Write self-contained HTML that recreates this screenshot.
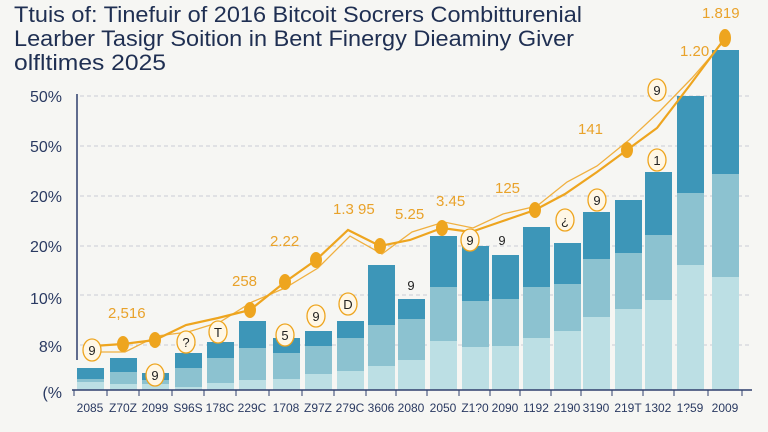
<!DOCTYPE html>
<html><head><meta charset="utf-8"><style>
body{margin:0;background:#f6f6f3;}
svg{display:block;font-family:"Liberation Sans",sans-serif;}
</style></head><body>
<svg width="768" height="432" viewBox="0 0 768 432">
<rect width="768" height="432" fill="#f6f6f3"/>
<g fill="#1f2f52" font-size="22">
<text x="14" y="22" textLength="568" lengthAdjust="spacingAndGlyphs">Ttuis of: Tinefuir of 2016 Bitcoit Socrers Combitturenial</text>
<text x="14" y="46" textLength="560" lengthAdjust="spacingAndGlyphs">Learber Tasigr Soition in Bent Finergy Dieaminy Giver</text>
<text x="14" y="70" textLength="152" lengthAdjust="spacingAndGlyphs">olfltimes 2025</text>
</g>
<g stroke="#c9ccd4" stroke-dasharray="4,3" stroke-width="1">
<line x1="80" y1="96" x2="752" y2="96"/><line x1="80" y1="146" x2="752" y2="146"/>
<line x1="80" y1="196" x2="752" y2="196"/><line x1="80" y1="246" x2="752" y2="246"/>
<line x1="80" y1="295" x2="752" y2="295"/><line x1="80" y1="345" x2="752" y2="345"/>
</g>
<line x1="77" y1="94" x2="77" y2="360" stroke="#2e3f6c" stroke-width="1.5"/>
<g fill="#2a3a62" font-size="16" text-anchor="end">
<text x="62" y="102">50%</text><text x="62" y="152">50%</text><text x="62" y="202">20%</text>
<text x="62" y="252">20%</text><text x="62" y="304">10%</text><text x="62" y="352">8%</text><text x="62" y="398">(%</text>
</g>
<g fill="#3d96b8">
<rect x="77" y="368" width="27" height="22"/><rect x="110" y="358" width="27" height="32"/><rect x="142" y="373" width="27" height="17"/>
<rect x="175" y="353" width="27" height="37"/><rect x="207" y="342" width="27" height="48"/><rect x="239" y="321" width="27" height="69"/>
<rect x="273" y="338" width="27" height="52"/><rect x="305" y="331" width="27" height="59"/><rect x="337" y="321" width="27" height="69"/>
<rect x="368" y="265" width="27" height="125"/><rect x="398" y="299" width="27" height="91"/><rect x="430" y="236" width="27" height="154"/>
<rect x="462" y="246" width="27" height="144"/><rect x="492" y="255" width="27" height="135"/><rect x="523" y="227" width="27" height="163"/>
<rect x="554" y="243" width="27" height="147"/><rect x="583" y="212" width="27" height="178"/><rect x="615" y="200" width="27" height="190"/>
<rect x="645" y="172" width="27" height="218"/><rect x="677" y="96" width="27" height="294"/><rect x="712" y="50" width="27" height="340"/>
</g>
<g fill="#8cc2d0">
<rect x="77" y="379" width="27" height="11"/><rect x="110" y="372" width="27" height="18"/><rect x="142" y="380" width="27" height="10"/>
<rect x="175" y="368" width="27" height="22"/><rect x="207" y="358" width="27" height="32"/><rect x="239" y="348" width="27" height="42"/>
<rect x="273" y="353" width="27" height="37"/><rect x="305" y="346" width="27" height="44"/><rect x="337" y="338" width="27" height="52"/>
<rect x="368" y="325" width="27" height="65"/><rect x="398" y="319" width="27" height="71"/><rect x="430" y="287" width="27" height="103"/>
<rect x="462" y="301" width="27" height="89"/><rect x="492" y="299" width="27" height="91"/><rect x="523" y="287" width="27" height="103"/>
<rect x="554" y="284" width="27" height="106"/><rect x="583" y="259" width="27" height="131"/><rect x="615" y="253" width="27" height="137"/>
<rect x="645" y="235" width="27" height="155"/><rect x="677" y="193" width="27" height="197"/><rect x="712" y="174" width="27" height="216"/>
</g>
<g fill="#bcdfe4">
<rect x="77" y="382" width="27" height="8"/><rect x="110" y="384" width="27" height="6"/><rect x="142" y="384" width="27" height="6"/>
<rect x="175" y="387" width="27" height="3"/><rect x="207" y="383" width="27" height="7"/><rect x="239" y="380" width="27" height="10"/>
<rect x="273" y="379" width="27" height="11"/><rect x="305" y="374" width="27" height="16"/><rect x="337" y="371" width="27" height="19"/>
<rect x="368" y="366" width="27" height="24"/><rect x="398" y="360" width="27" height="30"/><rect x="430" y="341" width="27" height="49"/>
<rect x="462" y="347" width="27" height="43"/><rect x="492" y="346" width="27" height="44"/><rect x="523" y="338" width="27" height="52"/>
<rect x="554" y="331" width="27" height="59"/><rect x="583" y="317" width="27" height="73"/><rect x="615" y="309" width="27" height="81"/>
<rect x="645" y="300" width="27" height="90"/><rect x="677" y="265" width="27" height="125"/><rect x="712" y="277" width="27" height="113"/>
</g>
<line x1="72" y1="390" x2="752" y2="390" stroke="#2e3f6c" stroke-width="1.5"/>
<g stroke="#2e3f6c" stroke-width="1">
<line x1="74" y1="390" x2="74" y2="396"/><line x1="107" y1="390" x2="107" y2="396"/><line x1="139" y1="390" x2="139" y2="396"/><line x1="172" y1="390" x2="172" y2="396"/><line x1="204" y1="390" x2="204" y2="396"/><line x1="236" y1="390" x2="236" y2="396"/><line x1="269" y1="390" x2="269" y2="396"/><line x1="302" y1="390" x2="302" y2="396"/><line x1="334" y1="390" x2="334" y2="396"/><line x1="366" y1="390" x2="366" y2="396"/><line x1="396" y1="390" x2="396" y2="396"/><line x1="427" y1="390" x2="427" y2="396"/><line x1="459" y1="390" x2="459" y2="396"/><line x1="490" y1="390" x2="490" y2="396"/><line x1="520" y1="390" x2="520" y2="396"/><line x1="551" y1="390" x2="551" y2="396"/><line x1="581" y1="390" x2="581" y2="396"/><line x1="612" y1="390" x2="612" y2="396"/><line x1="643" y1="390" x2="643" y2="396"/><line x1="674" y1="390" x2="674" y2="396"/><line x1="708" y1="390" x2="708" y2="396"/><line x1="742" y1="390" x2="742" y2="396"/>
</g>
<g fill="#2a3a62" font-size="12" text-anchor="middle">
<text x="90" y="412">2085</text><text x="123" y="412">Z70Z</text><text x="155" y="412">2099</text><text x="188" y="412">S96S</text><text x="220" y="412">178C</text><text x="252" y="412">229C</text><text x="286" y="412">1708</text><text x="318" y="412">Z97Z</text><text x="350" y="412">279C</text><text x="381" y="412">3606</text><text x="411" y="412">2080</text><text x="443" y="412">2050</text><text x="475" y="412">Z1?0</text><text x="505" y="412">2090</text><text x="536" y="412">1192</text><text x="567" y="412">2190</text><text x="596" y="412">3190</text><text x="628" y="412">219T</text><text x="658" y="412">1302</text><text x="690" y="412">1?59</text><text x="725" y="412">2009</text>
</g>
<polyline fill="none" stroke="#f0b040" stroke-width="1.3" points="95,352 125,352 157,336 188,332 220,322 252,302 285,288 318,268 350,236 382,254 412,232 444,222 473,228 503,214 537,206 567,182 597,166 629,140 659,112 692,78 725,40"/>
<polyline fill="none" stroke="#eea51f" stroke-width="2.2" points="93,346 123,344 155,340 186,325 218,318 250,310 285,282 316,260 348,230 380,246 410,240 442,228 471,232 500,222 535,210 565,194 597,172 627,150 657,128 690,85 725,38"/>
<g fill="#fff7e6" stroke="#eea51f" stroke-width="1.3">
<ellipse cx="92" cy="350" rx="9" ry="11"/><ellipse cx="155" cy="375" rx="9" ry="11"/><ellipse cx="186" cy="342" rx="9" ry="11"/><ellipse cx="218" cy="332" rx="9" ry="11"/><ellipse cx="285" cy="335" rx="9" ry="11"/><ellipse cx="316" cy="316" rx="9" ry="11"/><ellipse cx="348" cy="304" rx="9" ry="11"/><ellipse cx="470" cy="240" rx="9" ry="11"/><ellipse cx="565" cy="220" rx="9" ry="11"/><ellipse cx="597" cy="200" rx="9" ry="11"/><ellipse cx="657" cy="160" rx="9" ry="11"/><ellipse cx="657" cy="90" rx="9" ry="11"/>
</g>
<g fill="#eea51f">
<ellipse cx="123" cy="344" rx="6" ry="8"/><ellipse cx="155" cy="340" rx="6" ry="8"/><ellipse cx="250" cy="310" rx="6" ry="8"/><ellipse cx="285" cy="282" rx="6" ry="8"/><ellipse cx="316" cy="260" rx="6" ry="8"/><ellipse cx="380" cy="246" rx="6" ry="8"/><ellipse cx="442" cy="228" rx="6" ry="8"/><ellipse cx="535" cy="210" rx="6" ry="8"/><ellipse cx="627" cy="150" rx="6" ry="8"/><ellipse cx="725" cy="38" rx="6" ry="9"/>
</g>
<g fill="#222" font-size="13" text-anchor="middle">
<text x="92" y="355">9</text><text x="155" y="380">9</text><text x="186" y="347">?</text><text x="218" y="337">T</text><text x="285" y="340">5</text><text x="316" y="321">9</text><text x="348" y="309">D</text><text x="411" y="290">9</text><text x="470" y="245">9</text><text x="502" y="245">9</text><text x="565" y="225">&#191;</text><text x="597" y="205">9</text><text x="657" y="165">1</text><text x="657" y="95">9</text>
</g>
<g fill="#e9a22a" font-size="15">
<text x="108" y="318">2,516</text><text x="232" y="286">258</text><text x="270" y="246">2.22</text>
<text x="333" y="214">1.3 95</text><text x="395" y="219">5.25</text><text x="436" y="206">3.45</text>
<text x="495" y="193">125</text><text x="578" y="134">141</text><text x="680" y="56">1.20</text><text x="702" y="18">1.819</text>
</g>
</svg>
</body></html>
